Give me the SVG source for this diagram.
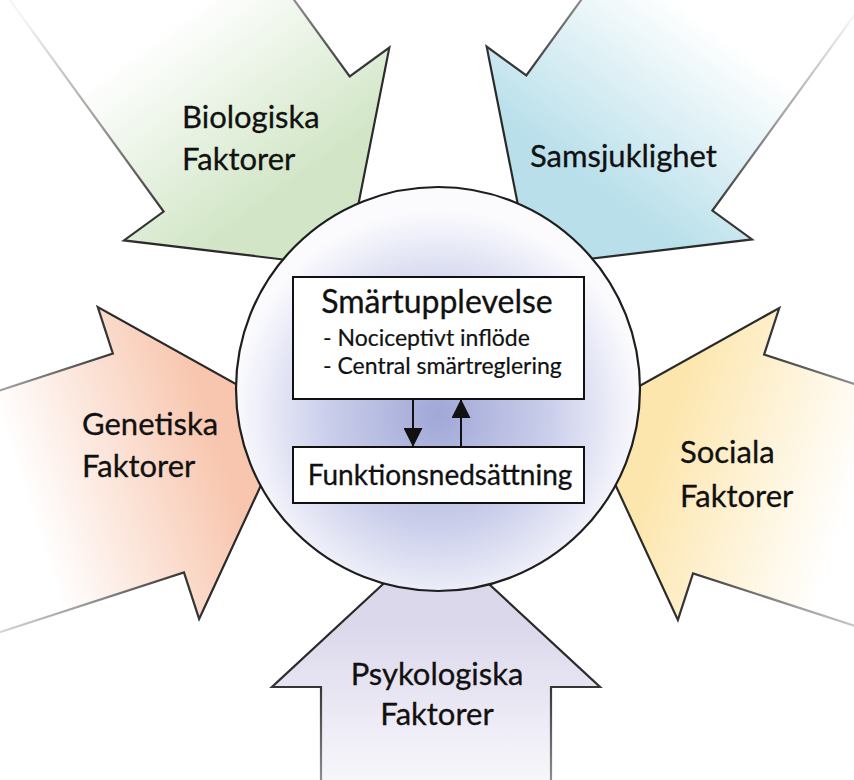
<svg xmlns="http://www.w3.org/2000/svg" width="854" height="780" viewBox="0 0 854 780">
  <defs>
    <!-- fills fade from the tip outwards, in each arrow's local frame (tip at origin, pointing +x) -->
    <linearGradient id="gGreen" gradientUnits="userSpaceOnUse" x1="-100" y1="0" x2="-300" y2="0">
      <stop offset="0" stop-color="#d2e6c7"/>
      <stop offset="1" stop-color="#ffffff"/>
    </linearGradient>
    <linearGradient id="gBlue" gradientUnits="userSpaceOnUse" x1="-100" y1="0" x2="-300" y2="0">
      <stop offset="0" stop-color="#b8dfea"/>
      <stop offset="1" stop-color="#ffffff"/>
    </linearGradient>
    <linearGradient id="gPeach" gradientUnits="userSpaceOnUse" x1="-80" y1="0" x2="-280" y2="0">
      <stop offset="0" stop-color="#f8c6ae"/>
      <stop offset="1" stop-color="#ffffff"/>
    </linearGradient>
    <linearGradient id="gYellow" gradientUnits="userSpaceOnUse" x1="-80" y1="0" x2="-280" y2="0">
      <stop offset="0" stop-color="#fde6ad"/>
      <stop offset="1" stop-color="#ffffff"/>
    </linearGradient>
    <linearGradient id="gLilac" gradientUnits="userSpaceOnUse" x1="-90" y1="0" x2="-290" y2="0">
      <stop offset="0" stop-color="#dcd8ec"/>
      <stop offset="1" stop-color="#ffffff"/>
    </linearGradient>
    <linearGradient id="gEdge" gradientUnits="userSpaceOnUse" x1="-140" y1="0" x2="-390" y2="0">
      <stop offset="0" stop-color="#2a2a2a"/>
      <stop offset="0.5" stop-color="#a0a0a0"/>
      <stop offset="1" stop-color="#f4f4f4"/>
    </linearGradient>
    <radialGradient id="gCore" cx="438" cy="415" r="205" gradientUnits="userSpaceOnUse">
      <stop offset="0" stop-color="#a1a7d7"/>
      <stop offset="0.55" stop-color="#cbcfeb"/>
      <stop offset="1" stop-color="#fbfbfe"/>
    </radialGradient>
    <!-- block arrow, tip at origin, pointing along +x -->
    <polygon id="blockArrow" points="0,0 -152,-164 -152,-115 -420,-115 -420,115 -152,115 -152,164"/>
    <marker id="head" markerWidth="19" markerHeight="19" viewBox="0 0 19 19" refX="19" refY="9.5" orient="auto" markerUnits="userSpaceOnUse">
      <path d="M0,0 L19,9.5 L0,19 Z" fill="#111"/>
    </marker>
  </defs>
  <style>
    .arrow { stroke: url(#gEdge); stroke-width: 2.2; stroke-linejoin: miter; }
    .lbl { font-family: Lato, "Open Sans", sans-serif; font-size: 31px; fill: #111; stroke: #111; stroke-width: 0.3; }
    .box { fill: #ffffff; stroke: #111111; stroke-width: 2; }
    .core { fill: url(#gCore); stroke: #1e1e1e; stroke-width: 2.2; }
    .title { font-family: Lato, "Open Sans", sans-serif; font-size: 32px; fill: #111; stroke: #111; stroke-width: 0.3; }
    .sub { font-family: Lato, "Open Sans", sans-serif; font-size: 23px; fill: #111; stroke: #111; stroke-width: 0.2; }
    .link { stroke: #111; stroke-width: 2; fill: none; }
  </style>

  <rect width="854" height="780" fill="#ffffff"/>

  <!-- converging factor arrows -->
  <g id="biologiska">
    <use href="#blockArrow" class="arrow" fill="url(#gGreen)" transform="translate(346,267) rotate(54)"/>
    <text class="lbl" x="182" y="128">Biologiska</text>
    <text class="lbl" x="182" y="170">Faktorer</text>
  </g>
  <g id="samsjuklighet">
    <use href="#blockArrow" class="arrow" fill="url(#gBlue)" transform="translate(530,266) rotate(126)"/>
    <text class="lbl" x="530" y="167">Samsjuklighet</text>
  </g>
  <g id="genetiska">
    <use href="#blockArrow" class="arrow" fill="url(#gPeach)" transform="translate(293,416) rotate(-18)"/>
    <text class="lbl" x="82" y="435">Genetiska</text>
    <text class="lbl" x="82" y="477">Faktorer</text>
  </g>
  <g id="sociala">
    <use href="#blockArrow" class="arrow" fill="url(#gYellow)" transform="translate(584,417) rotate(198)"/>
    <text class="lbl" x="680" y="463">Sociala</text>
    <text class="lbl" x="680" y="507">Faktorer</text>
  </g>
  <g id="psykologiska">
    <use href="#blockArrow" class="arrow" fill="url(#gLilac)" transform="translate(436,535) rotate(-90)"/>
    <text class="lbl" x="437" y="685" text-anchor="middle">Psykologiska</text>
    <text class="lbl" x="437" y="725" text-anchor="middle">Faktorer</text>
  </g>

  <!-- central circle -->
  <g id="core">
    <circle class="core" cx="438" cy="389" r="202"/>
  </g>

  <g id="smartupplevelse">
    <rect class="box" x="293" y="277" width="291" height="122"/>
    <text class="title" x="437" y="313" text-anchor="middle">Smärtupplevelse</text>
    <text class="sub" x="323" y="346">- Nociceptivt inflöde</text>
    <text class="sub" x="323" y="374">- Central smärtreglering</text>
  </g>

  <g id="funktionsnedsattning">
    <rect class="box" x="293" y="447" width="291" height="56"/>
    <text class="title" x="440" y="485" text-anchor="middle" style="font-size:28px">Funktionsnedsättning</text>
  </g>

  <!-- connectors between the two boxes -->
  <g id="connectors">
    <line class="link" x1="413" y1="399" x2="413" y2="447" marker-end="url(#head)"/>
    <line class="link" x1="461" y1="447" x2="461" y2="399" marker-end="url(#head)"/>
  </g>
</svg>
